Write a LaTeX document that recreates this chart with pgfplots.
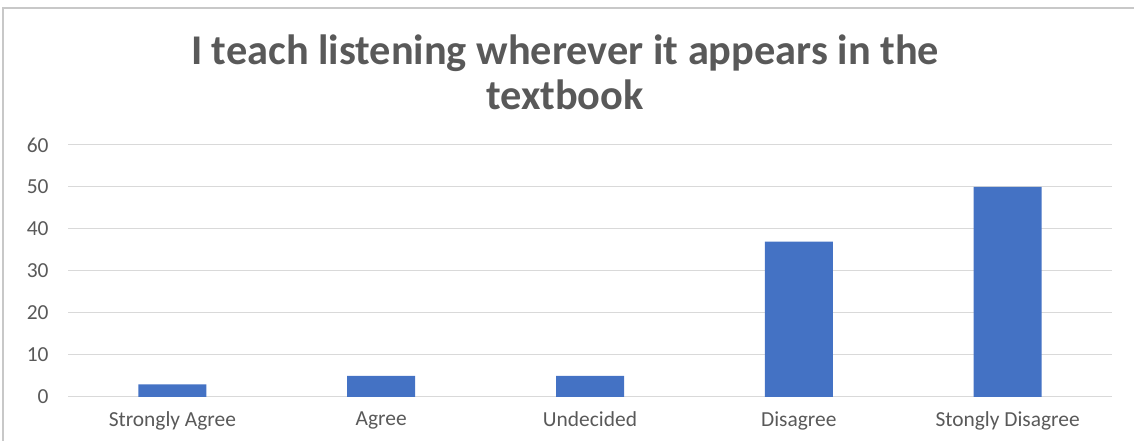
\documentclass[border=0pt]{standalone}
\usepackage{pgfplots}
\pgfplotsset{compat=1.18}
\usepackage{fontspec}
\setmainfont{Carlito}
\definecolor{barblue}{RGB}{68,114,196}
\definecolor{txtgray}{RGB}{89,89,89}
\definecolor{gridgray}{RGB}{217,217,217}
\definecolor{framegray}{RGB}{200,200,200}
\begin{document}
\begin{tikzpicture}[x=1bp,y=1bp]
\useasboundingbox (0,0) rectangle (1134,441);
\clip (0,0) rectangle (1134,441);
\draw[framegray, line width=1.5bp] (3,-10) -- (3,433) -- (1150,433);
\begin{axis}[
  at={(68bp,44bp)}, anchor=south west,
  scale only axis, width=1044bp, height=252bp,
  xmin=-0.5, xmax=4.5, ymin=0, ymax=60,
  ytick={0,10,...,60},
  xtick=data,
  xticklabels={Strongly Agree,Agree,Undecided,Disagree,Stongly Disagree},
  axis line style={draw=none},
  axis x line*=bottom,
  x axis line style={draw=gridgray, line width=1bp},
  ymajorgrids, grid style={gridgray, line width=1bp},
  major tick length=0pt,
  tick label style={font=\fontsize{21.5}{24}\selectfont, text=txtgray},
  /pgf/number format/assume math mode=true,
  yticklabel style={xshift=-16bp},
  xticklabel style={yshift=-11bp},
  ybar, bar width=68bp,
]
\addplot[fill=barblue, draw=none] coordinates {(0,3) (1,5) (2,5) (3,37) (4,50)};
\end{axis}
\node[text=txtgray, font=\fontsize{42.5}{45}\selectfont\bfseries, align=center] at (565,369) {I teach listening wherever it appears in the\\textbook};
\end{tikzpicture}
\end{document}
